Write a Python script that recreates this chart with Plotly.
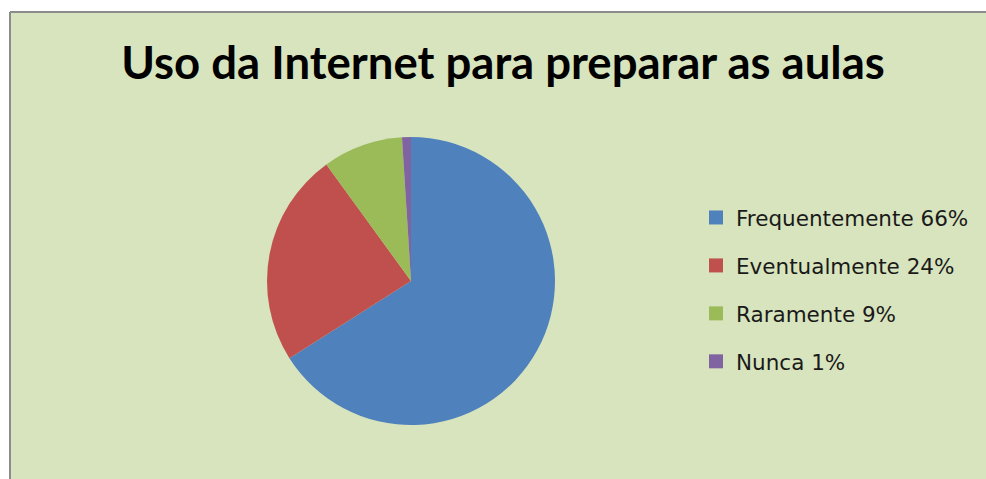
import plotly.graph_objects as go

title_text = "Uso da Internet para preparar as aulas"
categories = ["Frequentemente", "Eventualmente", "Raramente", "Nunca"]
values = [66, 24, 9, 1]
legend_labels = ["Frequentemente 66%", "Eventualmente 24%", "Raramente 9%", "Nunca 1%"]
colors = ["#4F81BD", "#C0504D", "#9BBB59", "#8064A2"]

W, H = 986, 479
BG = "#D7E4BD"

fig = go.Figure()

# pie: centre (411, 281), radius 144 px
cx, cy, r = 411, 281, 144
fig.add_trace(go.Pie(
    labels=categories,
    values=values,
    sort=False,
    direction="clockwise",
    rotation=0,
    marker=dict(colors=colors, line=dict(width=0)),
    textinfo="none",
    hoverinfo="label+percent",
    showlegend=False,
    domain=dict(x=[(cx - r) / W, (cx + r) / W], y=[1 - (cy + r) / H, 1 - (cy - r) / H]),
))

# legend entries
for lab, col in zip(legend_labels, colors):
    fig.add_trace(go.Scatter(
        x=[None], y=[None], mode="markers", name=lab,
        marker=dict(symbol="square", size=14, color=col),
        legendgroup=lab, showlegend=True, hoverinfo="skip",
    ))

fig.update_layout(
    width=W, height=H,
    margin=dict(l=0, r=0, t=0, b=0),
    paper_bgcolor=BG,
    plot_bgcolor="rgba(0,0,0,0)",
    xaxis=dict(visible=False),
    yaxis=dict(visible=False),
    font=dict(family="DejaVu Sans, sans-serif", color="#1a1a1a"),
    title=dict(
        text="<b>" + title_text + "</b>",
        font=dict(family="Lato, Carlito, sans-serif", size=45.5, color="#000000"),
        x=503 / W, xanchor="center",
        y=1 - 63 / H, yanchor="middle",
    ),
    legend=dict(
        x=696 / W, xanchor="left",
        y=1 - 197 / H, yanchor="top",
        font=dict(family="DejaVu Sans, sans-serif", size=21.5, color="#1a1a1a"),
        bgcolor="rgba(0,0,0,0)",
        tracegroupgap=17,
        itemsizing="trace",
    ),
    shapes=[
        # white outer margins
        dict(type="rect", xref="paper", yref="paper", x0=0, x1=10 / W, y0=0, y1=1,
             fillcolor="white", line=dict(width=0), layer="above"),
        dict(type="rect", xref="paper", yref="paper", x0=0, x1=1, y0=1 - 12 / H, y1=1,
             fillcolor="white", line=dict(width=0), layer="above"),
        # grey frame lines
        dict(type="line", xref="paper", yref="paper", x0=10 / W, x1=1, y0=1 - 12 / H, y1=1 - 12 / H,
             line=dict(color="#8C8C8C", width=2), layer="above"),
        dict(type="line", xref="paper", yref="paper", x0=10 / W, x1=10 / W, y0=0, y1=1 - 12 / H,
             line=dict(color="#8C8C8C", width=2), layer="above"),
    ],
)

fig.write_html(
    "out.html",
    config={"displayModeBar": False},
    post_script="document.body.style.margin='0';document.body.style.overflow='hidden';",
)
